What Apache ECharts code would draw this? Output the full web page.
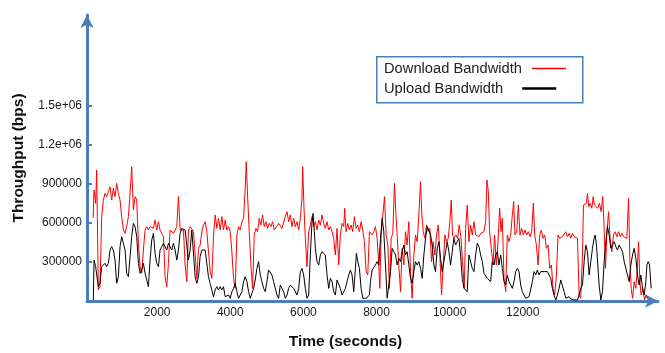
<!DOCTYPE html>
<html>
<head>
<meta charset="utf-8">
<script src="https://cdn.jsdelivr.net/npm/echarts@6/dist/echarts.min.js"></script>
<style>
  html, body { margin: 0; padding: 0; background: #fff; }
  #chart { width: 665px; height: 353px; }
</style>
</head>
<body>
<div id="chart"></div>
<script>
// time in seconds, throughput in kbps (axis labels print bps)
const dlTime = [
  250, 272, 317, 345, 390, 436, 481, 527, 573, 618,
  664, 710, 755, 801, 847, 892, 938, 984, 1029, 1075,
  1121, 1166, 1212, 1258, 1303, 1349, 1395, 1440, 1486, 1532,
  1577, 1623, 1668, 1714, 1760, 1805, 1851, 1897, 1942, 1988,
  2034, 2079, 2125, 2171, 2216, 2262, 2308, 2353, 2399, 2444,
  2490, 2536, 2581, 2627, 2674, 2719, 2765, 2810, 2856, 2902,
  2948, 2993, 3039, 3085, 3130, 3176, 3221, 3267, 3313, 3358,
  3404, 3450, 3495, 3541, 3587, 3632, 3678, 3724, 3769, 3815,
  3861, 3906, 3952, 3998, 4043, 4089, 4135, 4180, 4226, 4271,
  4317, 4363, 4408, 4436, 4472, 4518, 4564, 4610, 4655, 4701,
  4746, 4792, 4838, 4883, 4929, 4974, 5020, 5066, 5111, 5157,
  5203, 5270, 5322, 5414, 5505, 5551, 5596, 5642, 5687, 5733,
  5779, 5824, 5870, 5916, 5961, 5980, 6016, 6053, 6098, 6144,
  6190, 6235, 6281, 6327, 6372, 6418, 6464, 6509, 6555, 6600,
  6646, 6692, 6737, 6783, 6829, 6874, 6920, 6966, 7011, 7057,
  7103, 7130, 7167, 7212, 7258, 7304, 7349, 7395, 7441, 7486,
  7532, 7578, 7623, 7669, 7715, 7760, 7806, 7880, 7925, 7971,
  8017, 8062, 8090, 8126, 8172, 8218, 8263, 8309, 8354, 8400,
  8446, 8491, 8528, 8564, 8610, 8656, 8701, 8747, 8793, 8838,
  8884, 8930, 8975, 9021, 9067, 9112, 9158, 9204, 9240, 9277,
  9322, 9368, 9414, 9459, 9505, 9551, 9596, 9642, 9688, 9733,
  9779, 9824, 9870, 9916, 9961, 10007, 10044, 10080, 10126, 10171,
  10217, 10263, 10308, 10354, 10400, 10437, 10482, 10528, 10574, 10620,
  10665, 10711, 10757, 10802, 10848, 10894, 10939, 10985, 11021, 11058,
  11094, 11140, 11186, 11231, 11277, 11323, 11368, 11405, 11441, 11487,
  11533, 11578, 11624, 11670, 11715, 11752, 11788, 11834, 11880, 11925,
  11971, 12017, 12062, 12108, 12154, 12199, 12245, 12290, 12327, 12373,
  12418, 12464, 12510, 12555, 12601, 12647, 12692, 12738, 12784, 12829,
  12875, 12921, 12966, 13012, 13085, 13131, 13177, 13223, 13268, 13314,
  13360, 13405, 13451, 13497, 13542, 13588, 13634, 13661, 13697, 13743,
  13770, 13807, 13843, 13889, 13926, 13962, 14008, 14053, 14099, 14145,
  14190, 14227, 14263, 14300, 14346, 14391, 14437, 14483, 14528, 14574,
  14620, 14665, 14711, 14757, 14802, 14848, 14894, 14930, 14967, 15003,
  15049, 15094, 15140, 15167, 15204, 15240, 15286, 15332, 15377, 15414
];
const dlValue = [
  640, 854, 751, 1008, 85, 110, 649, 777, 828, 803,
  841, 879, 777, 867, 803, 905, 828, 777, 649, 546,
  520, 572, 649, 828, 1033, 700, 803, 777, 444, 264,
  213, 392, 546, 572, 546, 572, 585, 559, 623, 546,
  610, 546, 520, 495, 187, 110, 290, 546, 559, 520,
  546, 572, 803, 546, 533, 546, 277, 149, 546, 572,
  585, 533, 354, 174, 405, 431, 533, 585, 610, 533,
  379, 226, 174, 508, 662, 559, 636, 546, 649, 546,
  623, 546, 572, 533, 379, 174, 97, 508, 572, 546,
  610, 636, 867, 1072, 815, 533, 277, 97, 508, 559,
  533, 636, 585, 662, 572, 610, 559, 597, 572, 610,
  546, 572, 597, 559, 649, 687, 610, 662, 572, 636,
  572, 610, 546, 636, 790, 1033, 713, 482, 264, 533,
  585, 649, 572, 610, 546, 623, 585, 662, 597, 559,
  610, 546, 572, 533, 482, 354, 559, 277, 508, 597,
  572, 713, 533, 597, 546, 585, 533, 649, 559, 585,
  533, 610, 546, 456, 226, 200, 533, 508, 533, 572,
  482, 277, 97, 508, 508, 803, 508, 431, 97, 482,
  520, 905, 687, 508, 277, 72, 405, 277, 533, 431,
  610, 226, 21, 354, 508, 456, 662, 918, 662, 533,
  482, 585, 533, 559, 303, 456, 354, 508, 585, 354,
  46, 277, 508, 456, 482, 610, 777, 508, 482, 508,
  482, 585, 495, 303, 97, 559, 738, 456, 585, 508,
  610, 508, 520, 495, 520, 508, 533, 610, 931, 841,
  533, 405, 277, 508, 277, 456, 713, 533, 636, 174,
  72, 508, 456, 508, 662, 764, 508, 533, 738, 508,
  559, 508, 546, 508, 533, 495, 533, 751, 508, 431,
  277, 508, 546, 482, 508, 405, 431, 251, 277, 97,
  46, 200, 508, 482, 495, 508, 533, 495, 520, 482,
  520, 495, 508, 482, 46, 21, 354, 738, 726, 751,
  828, 726, 751, 713, 803, 738, 751, 713, 751, 687,
  803, 559, 251, 508, 687, 482, 379, 508, 533, 495,
  533, 495, 520, 495, 508, 482, 790, 328, 97, 21,
  149, 97, 277, 456, 149, 46, 97, 8, 46, 21
];

const ulTime = [
  253, 272, 317, 390, 436, 481, 527, 573, 618, 664,
  710, 755, 801, 847, 892, 938, 984, 1029, 1075, 1121,
  1166, 1212, 1258, 1303, 1349, 1395, 1440, 1486, 1532, 1577,
  1623, 1668, 1714, 1760, 1805, 1851, 1897, 1942, 1988, 2034,
  2079, 2125, 2171, 2216, 2262, 2308, 2353, 2399, 2444, 2490,
  2536, 2581, 2627, 2673, 2718, 2764, 2810, 2855, 2901, 2947,
  2992, 3038, 3084, 3129, 3175, 3220, 3266, 3312, 3357, 3403,
  3449, 3494, 3540, 3586, 3631, 3677, 3723, 3768, 3814, 3860,
  3905, 3952, 3998, 4043, 4089, 4135, 4180, 4226, 4271, 4317,
  4363, 4408, 4454, 4500, 4545, 4591, 4637, 4682, 4728, 4774,
  4819, 4865, 4911, 4956, 5002, 5047, 5093, 5139, 5185, 5231,
  5277, 5322, 5368, 5414, 5459, 5505, 5551, 5596, 5642, 5687,
  5733, 5779, 5824, 5870, 5916, 5961, 6007, 6053, 6098, 6144,
  6190, 6235, 6263, 6299, 6327, 6372, 6418, 6464, 6509, 6555,
  6600, 6646, 6692, 6737, 6783, 6829, 6874, 6920, 6966, 7011,
  7057, 7103, 7148, 7194, 7240, 7285, 7331, 7377, 7422, 7450,
  7486, 7532, 7578, 7623, 7669, 7715, 7760, 7806, 7834, 7880,
  7925, 7971, 8017, 8062, 8108, 8154, 8199, 8245, 8291, 8336,
  8382, 8428, 8473, 8519, 8565, 8610, 8656, 8701, 8747, 8793,
  8838, 8884, 8930, 8975, 9021, 9067, 9112, 9158, 9204, 9249,
  9295, 9341, 9386, 9432, 9478, 9523, 9569, 9615, 9660, 9706,
  9752, 9797, 9843, 9889, 9934, 9980, 10026, 10071, 10117, 10163,
  10208, 10254, 10300, 10345, 10391, 10437, 10482, 10528, 10574, 10620,
  10665, 10711, 10757, 10802, 10848, 10894, 10939, 10985, 11030, 11076,
  11122, 11167, 11213, 11259, 11304, 11350, 11396, 11441, 11487, 11533,
  11578, 11624, 11670, 11715, 11761, 11807, 11852, 11898, 11944, 11989,
  12035, 12081, 12126, 12172, 12218, 12263, 12309, 12355, 12400, 12446,
  12492, 12537, 12583, 12629, 12674, 12720, 12766, 12811, 12857, 12903,
  12948, 12994, 13040, 13085, 13131, 13177, 13223, 13268, 13314, 13360,
  13405, 13451, 13497, 13542, 13588, 13634, 13679, 13725, 13770, 13816,
  13862, 13907, 13953, 13980, 14017, 14053, 14090, 14136, 14181, 14227,
  14273, 14318, 14364, 14410, 14455, 14501, 14547, 14592, 14638, 14683,
  14729, 14775, 14820, 14866, 14912, 14957, 15003, 15049, 15094, 15140,
  15185, 15231, 15277, 15322, 15368, 15396, 15432, 15469, 15514
];
const ulValue = [
  8, 315, 264, 110, 136, 264, 277, 290, 264, 290,
  392, 418, 392, 315, 136, 187, 418, 495, 508, 392,
  213, 187, 341, 495, 597, 572, 495, 290, 213, 238,
  290, 213, 162, 110, 315, 469, 520, 367, 290, 264,
  392, 418, 444, 418, 392, 444, 431, 392, 444, 392,
  315, 392, 520, 559, 546, 546, 559, 315, 392, 546,
  546, 187, 136, 187, 341, 392, 392, 392, 290, 187,
  136, 85, 33, 85, 110, 85, 110, 85, 110, 33,
  20, 46, 21, 72, 97, 136, 72, 21, 46, 72,
  149, 187, 149, 72, 21, 33, 97, 162, 251, 303,
  200, 149, 97, 72, 149, 238, 251, 200, 149, 136,
  46, 21, 123, 110, 72, 21, 46, 97, 123, 110,
  97, 110, 46, 97, 226, 251, 200, 97, 21, 46,
  354, 610, 674, 533, 405, 303, 277, 354, 379, 392,
  354, 200, 97, 174, 149, 72, 46, 162, 162, 97,
  46, 33, 97, 149, 200, 238, 200, 72, 251, 367,
  303, 251, 97, 21, 15, 21, 13, 46, 149, 238,
  251, 277, 303, 277, 482, 636, 533, 277, 21, 8,
  226, 405, 392, 354, 277, 328, 303, 379, 431, 354,
  379, 277, 174, 136, 226, 303, 277, 303, 251, 174,
  354, 482, 572, 546, 508, 431, 277, 226, 405, 456,
  328, 226, 303, 379, 456, 379, 277, 379, 482, 431,
  456, 482, 354, 174, 97, 97, 72, 354, 354, 251,
  226, 354, 444, 418, 354, 303, 213, 200, 174, 162,
  149, 303, 277, 354, 379, 277, 354, 251, 149, 123,
  200, 149, 123, 97, 149, 226, 251, 226, 123, 72,
  46, 21, 8, 33, 46, 149, 226, 200, 238, 200,
  226, 238, 226, 238, 226, 238, 174, 97, 46, 8,
  46, 97, 162, 149, 72, 21, 8, 33, 15, 21,
  8, 21, 8, 46, 97, 123, 303, 431, 379, 200,
  303, 405, 482, 508, 431, 277, 123, 8, 72, 303,
  456, 572, 508, 405, 431, 456, 418, 392, 431, 431,
  379, 303, 251, 200, 149, 277, 354, 405, 328, 200,
  123, 200, 97, 46, 149, 277, 303, 277, 97
];

const xTickLabels = [2000, 4000, 6000, 8000, 10000, 12000];
const yTickLabels = [300, 600, 900, 1200, 1500];

const axisBlue = '#4a7ebb';
const labelFont = 'Liberation Sans, Arial, sans-serif';
const dlColor = '#ff0000';
const ulColor = '#000000';

// one legend per entry so text stays left-aligned and the line sits after it
function legendItem(name, top, color, thick, gap) {
  return {
    orient: 'horizontal',
    align: 'right',
    left: 384,
    top: top,
    padding: 0,
    icon: 'rect',
    itemWidth: 34,
    itemHeight: thick,
    itemStyle: { color: color, borderWidth: 0 },
    textStyle: {
      fontFamily: labelFont, fontSize: 14.7, color: '#222',
      padding: [0, gap, 0, 0]
    },
    data: [name]
  };
}

const chart = echarts.init(document.getElementById('chart'), null, { renderer: 'canvas' });

chart.setOption({
  animation: false,
  backgroundColor: '#fff',
  grid: {
    left: 87,
    right: 7,
    top: 15,
    bottom: 52,
    containLabel: false,
    outerBoundsMode: 'none'
  },
  graphic: [{
    type: 'rect',
    left: 376,
    top: 56,
    shape: { width: 206, height: 46 },
    style: { fill: '#fff', stroke: axisBlue, lineWidth: 1.5 },
    z: 0
  }],
  legend: [
    legendItem('Download Bandwidth', 61, dlColor, 1.3, 5),
    legendItem('Upload Bandwidth', 81, ulColor, 2.6, 14)
  ],
  xAxis: {
    type: 'value',
    min: 80,
    max: 15700,
    name: 'Time (seconds)',
    nameLocation: 'middle',
    nameGap: 33,
    nameTextStyle: {
      fontFamily: labelFont, fontSize: 15.5, fontWeight: 'bold', color: '#111',
      padding: [0, 54, 0, 0]
    },
    axisLine: {
      show: true,
      lineStyle: { color: axisBlue, width: 3 },
      symbol: ['none', 'arrow'],
      symbolSize: [10, 13]
    },
    axisTick: { show: false },
    splitLine: { show: false },
    axisLabel: {
      customValues: xTickLabels,
      fontFamily: labelFont,
      fontSize: 12,
      color: '#1a1a1a',
      margin: 6,
      formatter: function (v) { return String(v); }
    }
  },
  yAxis: {
    type: 'value',
    min: 0,
    max: 2200,
    name: 'Throughput (bps)',
    nameLocation: 'middle',
    nameGap: 60,
    nameTextStyle: { fontFamily: labelFont, fontSize: 15.5, fontWeight: 'bold', color: '#111' },
    axisLine: {
      show: true,
      lineStyle: { color: axisBlue, width: 3 },
      symbol: ['none', 'arrow'],
      symbolSize: [10, 13]
    },
    axisTick: {
      show: true,
      inside: true,
      length: 5,
      customValues: yTickLabels,
      lineStyle: { color: axisBlue, width: 2 }
    },
    splitLine: { show: false },
    axisLabel: {
      customValues: yTickLabels,
      fontFamily: labelFont,
      fontSize: 12,
      color: '#1a1a1a',
      margin: 5,
      formatter: function (v) {
        const bps = v * 1000;
        return bps >= 1000000 ? (bps / 1000000).toFixed(1) + 'e+06' : String(bps);
      }
    }
  },
  series: [
    {
      name: 'Download Bandwidth',
      type: 'line',
      symbol: 'none',
      itemStyle: { color: dlColor },
      lineStyle: { color: dlColor, width: 1 },
      data: dlTime.map((t, i) => [t, dlValue[i]])
    },
    {
      name: 'Upload Bandwidth',
      type: 'line',
      symbol: 'none',
      itemStyle: { color: ulColor },
      lineStyle: { color: ulColor, width: 1 },
      data: ulTime.map((t, i) => [t, ulValue[i]])
    }
  ]
});
</script>
</body>
</html>
